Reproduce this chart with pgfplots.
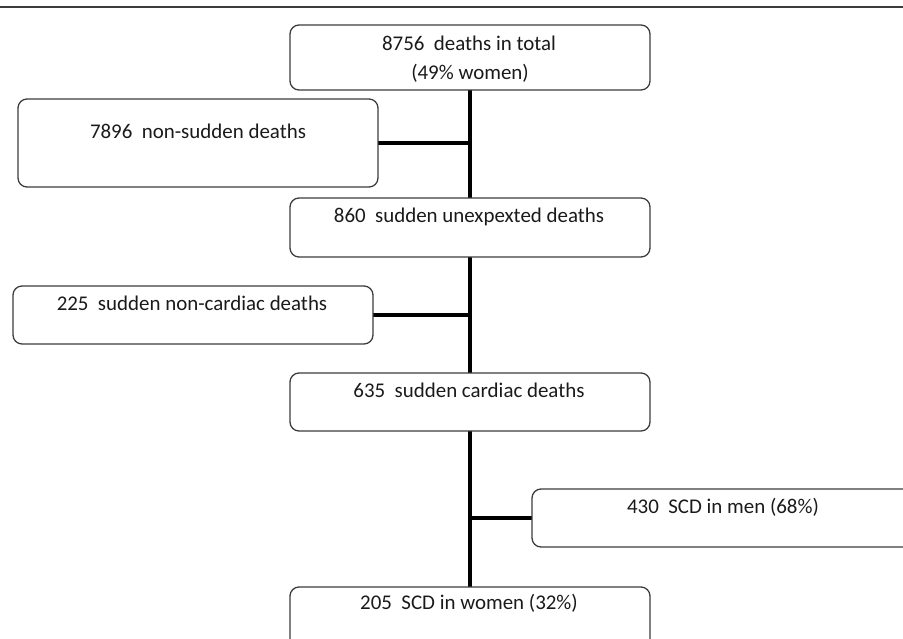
\documentclass[border=0pt]{standalone}
\usepackage{pgfplots}
\pgfplotsset{compat=1.18}
\usepackage{fontspec}
\setmainfont{Carlito}
\definecolor{boxc}{HTML}{3C3C3C}
\definecolor{txt}{HTML}{1A1A1A}
\newcommand{\numsp}{\hspace{0.45em}}
\newcommand{\bigf}{\fontsize{21}{30}\selectfont}
\tikzset{lbl/.style={font=\bigf, text=txt, inner sep=0pt, anchor=center}}
\begin{document}
\begin{tikzpicture}
\begin{axis}[
  width=903bp, height=639bp, scale only axis,
  xmin=0, xmax=903, ymin=0, ymax=639, y dir=reverse,
  hide axis, clip=true,
]
% frame extent
\addplot[draw=none] coordinates {(0,0) (903,639)};
% top rule
\addplot[boxc, line width=1.4bp] coordinates {(0,7) (903,7)};
% connectors
\addplot[black, line width=3.6bp] coordinates {(470,90) (470,198)};
\addplot[black, line width=3.6bp] coordinates {(470,257) (470,373)};
\addplot[black, line width=3.6bp] coordinates {(470,431) (470,587)};
\addplot[black, line width=3.6bp] coordinates {(378,143) (470,143)};
\addplot[black, line width=3.6bp] coordinates {(373,315) (470,315)};
\addplot[black, line width=3.6bp] coordinates {(470,518) (532,518)};
% boxes
\addplot[boxc, line width=1.3bp, rounded corners=9bp] coordinates {(470,25) (650,25) (650,90) (290,90) (290,25) (470,25)};
\addplot[boxc, line width=1.3bp, rounded corners=9bp] coordinates {(198,99) (378,99) (378,187) (18,187) (18,99) (198,99)};
\addplot[boxc, line width=1.3bp, rounded corners=9bp] coordinates {(470,198) (650,198) (650,257) (290,257) (290,198) (470,198)};
\addplot[boxc, line width=1.3bp, rounded corners=9bp] coordinates {(193,286) (373,286) (373,344) (13,344) (13,286) (193,286)};
\addplot[boxc, line width=1.3bp, rounded corners=9bp] coordinates {(470,373) (650,373) (650,431) (290,431) (290,373) (470,373)};
\addplot[boxc, line width=1.3bp, rounded corners=9bp] coordinates {(903,489) (532,489) (532,547) (903,547)};
\addplot[boxc, line width=1.3bp, rounded corners=9bp] coordinates {(290,639) (290,587) (650,587) (650,639)};
% texts
\node[lbl] at (axis cs:469,43) {8756\numsp deaths in total};
\node[lbl] at (axis cs:470,73) {(49\% women)};
\node[lbl] at (axis cs:198,131) {7896\numsp non-sudden deaths};
\node[lbl] at (axis cs:469,217) {860\numsp sudden unexpexted deaths};
\node[lbl] at (axis cs:192,303) {225\numsp sudden non-cardiac deaths};
\node[lbl] at (axis cs:469,390) {635\numsp sudden cardiac deaths};
\node[lbl] at (axis cs:723,507) {430\numsp SCD in men (68\%)};
\node[lbl] at (axis cs:469,603) {205\numsp SCD in women (32\%)};
\end{axis}
\end{tikzpicture}
\end{document}
